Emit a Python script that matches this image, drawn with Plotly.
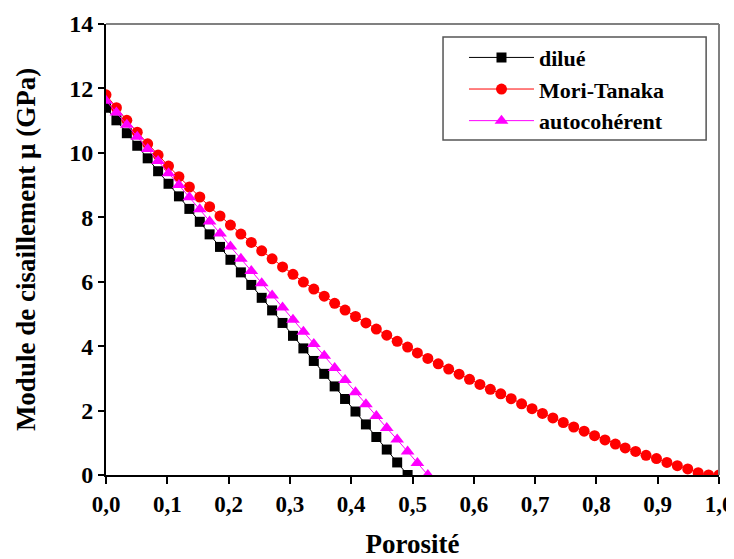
import plotly.graph_objects as go

# Porosity values (x)
porosite = [0.000, 0.017, 0.034, 0.051, 0.068, 0.085, 0.102, 0.119, 0.136, 0.153,
            0.169, 0.186, 0.203, 0.220, 0.237, 0.254, 0.271, 0.288, 0.305, 0.322,
            0.339, 0.356, 0.373, 0.390, 0.407, 0.424, 0.441, 0.458, 0.475, 0.492,
            0.508, 0.525, 0.542, 0.559, 0.576, 0.593, 0.610, 0.627, 0.644, 0.661,
            0.678, 0.695, 0.712, 0.729, 0.746, 0.763, 0.780, 0.797, 0.814, 0.831,
            0.847, 0.864, 0.881, 0.898, 0.915, 0.932, 0.949, 0.966, 0.983, 1.000]

dilue = [11.40, 11.01, 10.61, 10.22, 9.83, 9.43, 9.04, 8.65, 8.26, 7.86,
         7.47, 7.08, 6.68, 6.29, 5.90, 5.50, 5.11, 4.72, 4.32, 3.93,
         3.54, 3.14, 2.75, 2.36, 1.97, 1.57, 1.18, 0.79, 0.39, 0.00]

mori_tanaka = [11.80, 11.40, 11.01, 10.64, 10.28, 9.93, 9.59, 9.26, 8.94, 8.63,
               8.33, 8.04, 7.76, 7.48, 7.22, 6.96, 6.71, 6.46, 6.23, 5.99,
               5.77, 5.55, 5.33, 5.12, 4.92, 4.72, 4.53, 4.34, 4.15, 3.97,
               3.79, 3.62, 3.45, 3.29, 3.13, 2.97, 2.81, 2.66, 2.52, 2.37,
               2.21, 2.06, 1.91, 1.77, 1.63, 1.49, 1.36, 1.22, 1.09, 0.96,
               0.84, 0.73, 0.61, 0.51, 0.39, 0.29, 0.19, 0.07, 0.00, 0.00]

autocoherent = [11.62, 11.25, 10.87, 10.50, 10.12, 9.75, 9.37, 9.00, 8.62, 8.25,
                7.87, 7.50, 7.09, 6.71, 6.33, 5.95, 5.57, 5.20, 4.82, 4.45,
                4.07, 3.70, 3.32, 2.95, 2.57, 2.20, 1.83, 1.46, 1.10, 0.73,
                0.37, 0.00]

x_ticks = [0.0, 0.1, 0.2, 0.3, 0.4, 0.5, 0.6, 0.7, 0.8, 0.9, 1.0]
y_ticks = [0, 2, 4, 6, 8, 10, 12, 14]

FONT = "Liberation Serif"

fig = go.Figure()
fig.add_trace(go.Scatter(
    x=porosite[:len(dilue)], y=dilue, name="dilué", mode="lines+markers",
    line=dict(color="black", width=1),
    marker=dict(symbol="square", size=10, color="black"),
    legendgroup="a"))
fig.add_trace(go.Scatter(
    x=porosite[:len(mori_tanaka)], y=mori_tanaka, name="Mori-Tanaka", mode="lines+markers",
    line=dict(color="#FF0000", width=1),
    marker=dict(symbol="circle", size=11, color="#FF0000"),
    legendgroup="b"))
fig.add_trace(go.Scatter(
    x=porosite[:len(autocoherent)], y=autocoherent, name="autocohérent", mode="lines+markers",
    line=dict(color="#FF00FF", width=1),
    marker=dict(symbol="triangle-up", size=12, color="#FF00FF"),
    legendgroup="c"))

fig.update_layout(
    template="none",
    width=726, height=551,
    margin=dict(l=98, r=15, t=16, b=84, autoexpand=False),
    paper_bgcolor="white", plot_bgcolor="white",
    separators=",.",
    font=dict(family=FONT, color="black"),
    showlegend=True,
    legend=dict(
        x=0.584, y=0.972, xanchor="left", yanchor="top",
        bgcolor="rgba(0,0,0,0)", borderwidth=0,
        font=dict(family=FONT, size=22, color="black", weight="bold"),
        traceorder="grouped", tracegroupgap=0, itemwidth=65,
    ),
    xaxis=dict(
        automargin=False,
        range=[0, 1], tickvals=x_ticks, tickformat=".1f",
        ticklabeloverflow="allow",
        showline=True, linecolor="black", linewidth=2,
        ticks="outside", ticklen=7, tickwidth=2, tickcolor="black",
        showgrid=False, zeroline=False,
        tickfont=dict(family=FONT, size=23, color="black", weight="bold"),
        title=dict(text="Porosité", standoff=20,
                   font=dict(family=FONT, size=27, color="black", weight="bold")),
    ),
    yaxis=dict(
        automargin=False,
        range=[0, 14], tickvals=y_ticks,
        showline=True, linecolor="black", linewidth=2,
        ticks="outside", ticklen=6, tickwidth=2, tickcolor="black",
        showgrid=False, zeroline=False,
        tickfont=dict(family=FONT, size=24, color="black", weight="bold"),
        title=dict(text="Module de cisaillement μ (GPa)", standoff=26,
                   font=dict(family=FONT, size=27, color="black", weight="bold")),
    ),
    shapes=[
        dict(type="line", xref="paper", yref="paper", x0=0, x1=1, y0=1, y1=1,
             line=dict(color="#808080", width=2)),
        dict(type="line", xref="paper", yref="paper", x0=1, x1=1, y0=0, y1=1,
             line=dict(color="#808080", width=2)),
        dict(type="rect", xref="paper", yref="paper", x0=0.5498, x1=0.979,
             y0=0.743, y1=0.971, line=dict(color="#555555", width=1.5),
             fillcolor="rgba(0,0,0,0)", layer="above"),
    ],
)

fig.write_html("out.html")
